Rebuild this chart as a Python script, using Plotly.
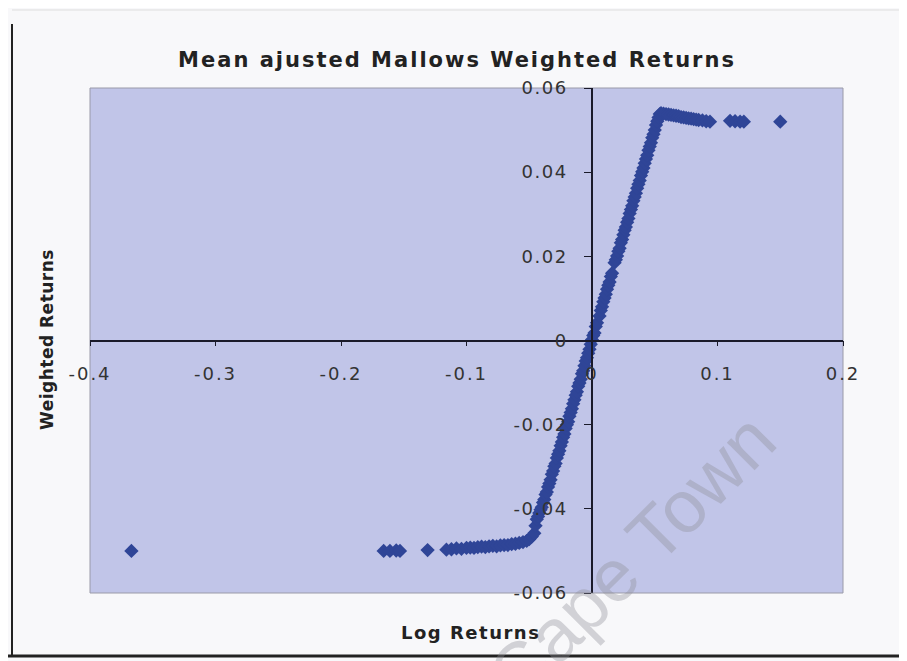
import plotly.graph_objects as go

# ---- data ----
left_outliers_x = [-0.367, -0.166, -0.161, -0.156, -0.153, -0.131]
left_outliers_y = [-0.0500, -0.0500, -0.0500, -0.0499, -0.0500, -0.0498]

lower_tail_x = [-0.116, -0.112, -0.108, -0.104, -0.100, -0.097, -0.094, -0.091, -0.088, -0.085,
                -0.082, -0.079, -0.076, -0.073, -0.070, -0.067, -0.064, -0.061, -0.058, -0.055,
                -0.052, -0.050, -0.048, -0.046]
lower_tail_y = [-0.0497, -0.0496, -0.0494, -0.0495, -0.0493, -0.0492, -0.0493, -0.0491, -0.0490, -0.0491,
                -0.0489, -0.0488, -0.0489, -0.0487, -0.0486, -0.0486, -0.0484, -0.0483, -0.0481, -0.0479,
                -0.0476, -0.0472, -0.0466, -0.0458]

diag_x = [-0.045, -0.044, -0.043, -0.042, -0.041, -0.040, -0.039, -0.038, -0.037, -0.036,
          -0.035, -0.034, -0.033, -0.032, -0.031, -0.030, -0.029, -0.028, -0.027, -0.026,
          -0.025, -0.024, -0.023, -0.022, -0.021, -0.020, -0.019, -0.018, -0.017, -0.016,
          -0.015, -0.014, -0.013, -0.012, -0.011, -0.010, -0.009, -0.008, -0.007, -0.006,
          -0.005, -0.004, -0.003, -0.002, -0.001, 0.000, 0.001, 0.002, 0.003, 0.004,
          0.006, 0.007, 0.008, 0.009, 0.010, 0.011, 0.012, 0.013, 0.014, 0.015,
          0.016, 0.018, 0.019, 0.020, 0.021, 0.022, 0.023, 0.024, 0.025, 0.026,
          0.027, 0.028, 0.029, 0.030, 0.031, 0.032, 0.033, 0.034, 0.035, 0.036,
          0.037, 0.038, 0.039, 0.040, 0.041, 0.042, 0.043, 0.044, 0.045, 0.046,
          0.047, 0.048, 0.049, 0.050, 0.051, 0.052, 0.053, 0.054]
diag_y = [-0.0440, -0.0425, -0.0418, -0.0410, -0.0402, -0.0396, -0.0385, -0.0378, -0.0366, -0.0360,
          -0.0348, -0.0340, -0.0331, -0.0318, -0.0310, -0.0299, -0.0292, -0.0279, -0.0270, -0.0262,
          -0.0250, -0.0241, -0.0230, -0.0222, -0.0209, -0.0200, -0.0193, -0.0180, -0.0171, -0.0162,
          -0.0150, -0.0141, -0.0130, -0.0122, -0.0109, -0.0101, -0.0092, -0.0079, -0.0072, -0.0060,
          -0.0049, -0.0041, -0.0030, -0.0021, -0.0009, 0.0002, 0.0012, 0.0018, 0.0033, 0.0042,
          0.0058, 0.0071, 0.0080, 0.0092, 0.0101, 0.0110, 0.0122, 0.0131, 0.0139, 0.0152,
          0.0160, 0.0185, 0.0192, 0.0201, 0.0212, 0.0219, 0.0232, 0.0240, 0.0251, 0.0262,
          0.0270, 0.0281, 0.0290, 0.0302, 0.0311, 0.0320, 0.0332, 0.0341, 0.0350, 0.0362,
          0.0371, 0.0380, 0.0392, 0.0401, 0.0410, 0.0421, 0.0431, 0.0440, 0.0452, 0.0461,
          0.0470, 0.0482, 0.0490, 0.0500, 0.0512, 0.0521, 0.0530, 0.0538]

upper_tail_x = [0.055, 0.057, 0.059, 0.061, 0.063, 0.065, 0.067, 0.069, 0.071, 0.073,
                0.075, 0.077, 0.079, 0.081, 0.083, 0.085, 0.088, 0.091, 0.094]
upper_tail_y = [0.0540, 0.0539, 0.0538, 0.0537, 0.0536, 0.0535, 0.0534, 0.0533, 0.0531, 0.0530,
                0.0529, 0.0528, 0.0527, 0.0526, 0.0525, 0.0524, 0.0523, 0.0521, 0.0520]

right_outliers_x = [0.110, 0.114, 0.118, 0.121, 0.150]
right_outliers_y = [0.0522, 0.0521, 0.0520, 0.0520, 0.0520]

x_ticks = [-0.4, -0.3, -0.2, -0.1, 0, 0.1, 0.2]
x_tick_labels = ["-0.4", "-0.3", "-0.2", "-0.1", "0", "0.1", "0.2"]
y_ticks = [-0.06, -0.04, -0.02, 0, 0.02, 0.04, 0.06]
y_tick_labels = ["-0.06", "-0.04", "-0.02", "0", "0.02", "0.04", "0.06"]

title_text = "Mean ajusted Mallows Weighted Returns"
x_title = "Log Returns"
y_title = "Weighted Returns"
watermark = "University of Cape Town"

xs = left_outliers_x + lower_tail_x + diag_x + upper_tail_x + right_outliers_x
ys = left_outliers_y + lower_tail_y + diag_y + upper_tail_y + right_outliers_y

# page has an 8px body margin; figure is placed at (8, 8)
OFF = 8
W, H = 907 - OFF, 661 - OFF
L, T = 90 - OFF, 88 - OFF
R = W - (843 - OFF)
B = H - (593 - OFF)
pw, ph = W - L - R, H - T - B

def px_x(p):  # page pixel -> paper fraction
    return (p - OFF - L) / pw

def px_y(p):
    return (H - B - (p - OFF)) / ph

def spaced(s, sp):
    return '<span style="letter-spacing:%spx">%s</span>' % (sp, s)

MARKER = "#2F4597"
TXT = "#333333"
FONT = "DejaVu Sans"

fig = go.Figure()
fig.add_trace(go.Scatter(
    x=xs, y=ys, mode="markers",
    marker=dict(symbol="diamond", size=11, color=MARKER, line=dict(width=0)),
    showlegend=False, hoverinfo="skip",
))

fig.update_layout(
    width=W, height=H,
    margin=dict(l=L, r=R, t=T, b=B),
    paper_bgcolor="#F8F8FA",
    plot_bgcolor="#C1C5E8",
    showlegend=False,
    title=dict(text=spaced(title_text, 2), x=px_x(457), xref="paper", xanchor="center",
               y=1 - (60 - OFF) / H, yanchor="middle",
               font=dict(family=FONT, size=21, color="#222222", weight="bold")),
    xaxis=dict(range=[-0.4, 0.2], tickvals=x_ticks,
               ticktext=[spaced(t, 2) for t in x_tick_labels],
               anchor="free", position=0.5, showgrid=False, zeroline=False,
               showline=True, linecolor="#1a1a2a", linewidth=1.5,
               ticks="outside", ticklen=5, tickcolor="#1a1a2a",
               ticklabelstandoff=12,
               tickfont=dict(family=FONT, size=18, color=TXT)),
    yaxis=dict(range=[-0.06, 0.06], tickvals=y_ticks,
               ticktext=[spaced(t, 1.5) for t in y_tick_labels],
               anchor="free", position=2 / 3, showgrid=False, zeroline=False,
               showline=True, linecolor="#1a1a2a", linewidth=1.5,
               ticks="outside", ticklen=7, tickcolor="#1a1a2a",
               ticklabelstandoff=13,
               tickfont=dict(family=FONT, size=18, color=TXT)),
)

# plot area border
fig.add_shape(type="rect", xref="x domain", yref="y domain", x0=0, x1=1, y0=0, y1=1,
              line=dict(color="#9a9aa8", width=1), layer="below")
# chart frame lines
fig.add_shape(type="line", xref="paper", yref="paper",
              x0=px_x(12), x1=px_x(12), y0=px_y(24), y1=px_y(656),
              line=dict(color="#222222", width=2))
fig.add_shape(type="line", xref="paper", yref="paper",
              x0=px_x(0), x1=px_x(907), y0=px_y(656), y1=px_y(656),
              line=dict(color="#222222", width=3))
fig.add_shape(type="line", xref="paper", yref="paper",
              x0=px_x(12), x1=px_x(900), y0=px_y(10), y1=px_y(10),
              line=dict(color="#dddddd", width=1))

fig.add_annotation(text=spaced(x_title, 1.5), xref="paper", yref="paper",
                   x=px_x(470), y=px_y(632), xanchor="center", yanchor="middle",
                   showarrow=False, font=dict(family=FONT, size=18, color="#222222", weight="bold"))
fig.add_annotation(text=spaced(y_title, 0.5), xref="paper", yref="paper",
                   x=px_x(47), y=px_y(340), xanchor="center", yanchor="middle",
                   textangle=-90, showarrow=False,
                   font=dict(family=FONT, size=17, color="#222222", weight="bold"))
fig.add_annotation(text=watermark, xref="paper", yref="paper",
                   x=px_x(480), y=px_y(708), xanchor="center", yanchor="middle",
                   textangle=-45, showarrow=False,
                   font=dict(family="Liberation Sans", size=74, color="rgba(140,140,150,0.36)"))

fig.write_html("out.html")
